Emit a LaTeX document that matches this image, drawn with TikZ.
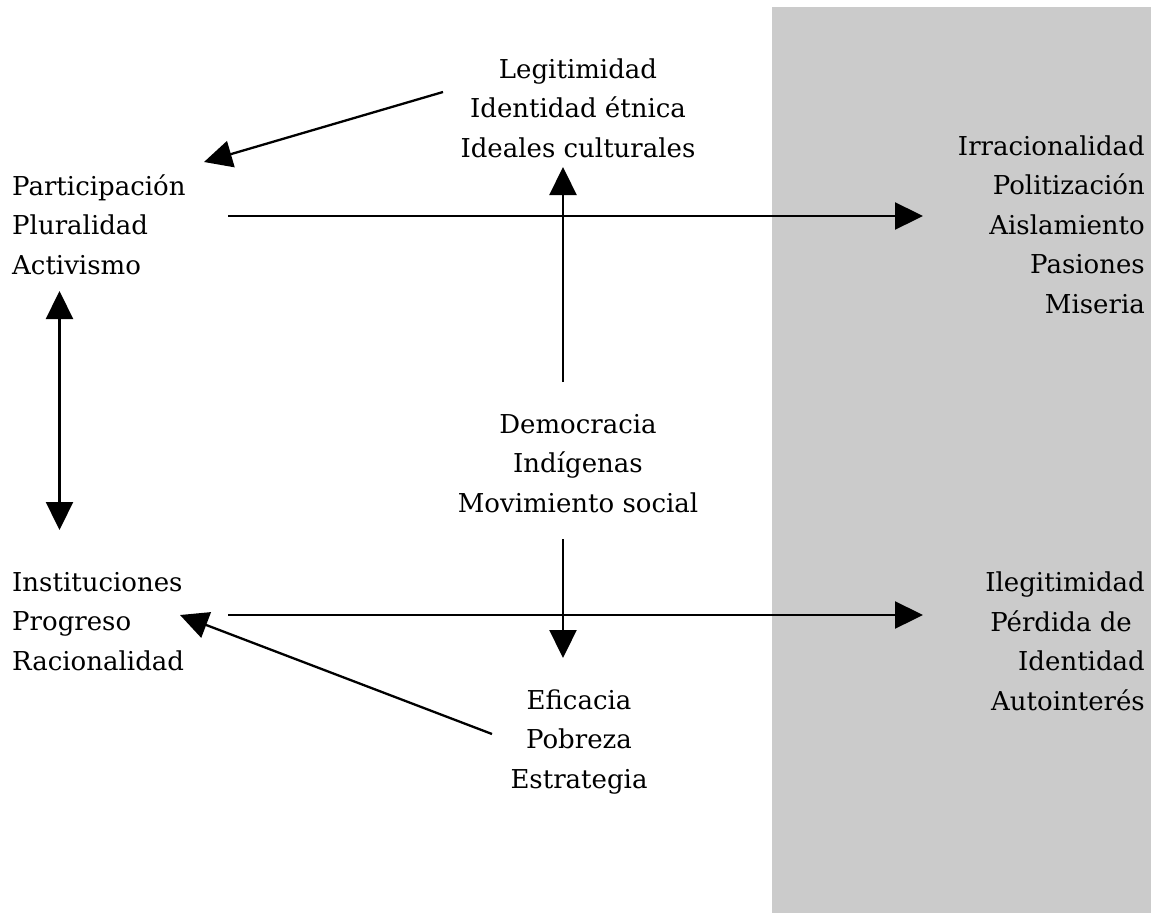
\documentclass[tikz,border=0pt]{standalone}
\usepackage{fontspec}
\setmainfont{DejaVu Serif}
\usetikzlibrary{arrows.meta}
\definecolor{panel}{RGB}{203,203,203}
\tikzset{
  lbl/.style={inner sep=0pt, font=\fontsize{26}{39.5}\selectfont},
  arr/.style={line width=2.3pt, -{Triangle[length=28pt,width=27pt]}},
  darr/.style={line width=2.3pt, {Triangle[length=28pt,width=27pt]}-{Triangle[length=28pt,width=27pt]}}
}
\begin{document}
\begin{tikzpicture}[x=1pt,y=-1pt]
\useasboundingbox (0,0) rectangle (1151,913);
\fill[panel] (772,7) rectangle (1151,913);

% anchor=base is the baseline of the last line
\node[lbl, anchor=base, align=center] (top) at (578,157) {Legitimidad\\Identidad étnica\\Ideales culturales};
\node[lbl, anchor=base west, align=left] (part) at (12,274) {Participación\\Pluralidad\\Activismo};
\node[lbl, anchor=base east, align=right] (irr) at (1145,313) {Irracionalidad\\Politización\\Aislamiento\\Pasiones\\Miseria};
\node[lbl, anchor=base, align=center] (dem) at (578,512) {Democracia\\Indígenas\\Movimiento social};
\node[lbl, anchor=base west, align=left] (inst) at (12,670) {Instituciones\\Progreso\\Racionalidad};
\node[lbl, anchor=base east, align=right] (ileg) at (1145,710) {Ilegitimidad\\Pérdida de\rule{13pt}{0pt}\\Identidad\\Autointerés};
\node[lbl, anchor=base, align=center] (efi) at (579,788) {Eficacia\\Pobreza\\Estrategia};

\coordinate (topS) at (443,92);
\coordinate (partE) at (204,162);
\coordinate (partR) at (228,216);
\coordinate (irrL) at (923,216);
\coordinate (partB) at (59.5,291);
\coordinate (instT) at (59.5,530);
\coordinate (demT) at (563,382);
\coordinate (topB) at (563,167);
\coordinate (demB) at (563,539);
\coordinate (efiT) at (563,658);
\coordinate (instR) at (228,615);
\coordinate (ilegL) at (923,615);
\coordinate (efiS) at (492,734);
\coordinate (instE) at (180,615);

\draw[arr] (topS) -- (partE);
\draw[arr] (partR) -- (irrL);
\draw[darr] (partB) -- (instT);
\draw[arr] (demT) -- (topB);
\draw[arr] (demB) -- (efiT);
\draw[arr] (instR) -- (ilegL);
\draw[arr] (efiS) -- (instE);
\end{tikzpicture}
\end{document}
